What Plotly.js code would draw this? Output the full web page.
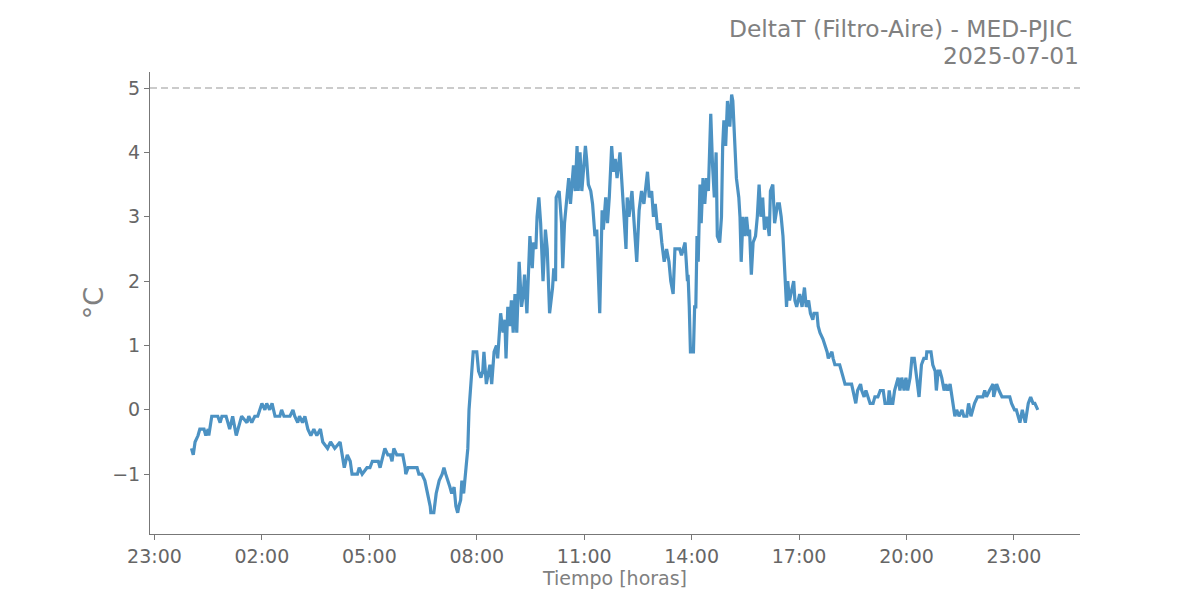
<!DOCTYPE html>
<html>
<head>
<meta charset="utf-8">
<script src="https://cdn.plot.ly/plotly-3.0.1.min.js"></script>
<style>html,body{margin:0;padding:0;background:#fff;}#chart{width:1200px;height:600px;}</style>
</head>
<body>
<div id="chart"></div>
<script>
// Chart data: DeltaT (Filtro-Aire) - MED-PJIC, 2025-07-01
const chartDate = "2025-07-01";
const titleLines = ["DeltaT (Filtro-Aire) - MED-PJIC", "2025-07-01"];
const xAxisLabel = "Tiempo [horas]";
const yAxisLabel = "°C";
const thresholdValue = 5;

const times = [
"00:02","00:05","00:08","00:13","00:16","00:23","00:26","00:30","00:31","00:33",
"00:36","00:46","00:50","00:53","01:00","01:03","01:06","01:11","01:17","01:23",
"01:26","01:35","01:38","01:43","01:48","01:53","01:56","02:00","02:05","02:08",
"02:13","02:17","02:22","02:30","02:33","02:37","02:47","02:52","02:55","03:00",
"03:03","03:08","03:12","03:17","03:22","03:27","03:32","03:38","03:42","03:50",
"03:55","04:02","04:11","04:15","04:18","04:23","04:28","04:31","04:40","04:43",
"04:48","04:56","05:01","05:05","05:15","05:18","05:23","05:26","05:31","05:35",
"05:38","05:41","05:46","05:56","06:00","06:01","06:05","06:20","06:23","06:28",
"06:33","06:38","06:42","06:43","06:48","06:52","06:57","07:02","07:05","07:08",
"07:12","07:15","07:18","07:22","07:25","07:28","07:30","07:33","07:35","07:38",
"07:42","07:45","07:47","07:51","07:54","08:00","08:03","08:07","08:10","08:12",
"08:16","08:22","08:25","08:29","08:33","08:35","08:40","08:44","08:47","08:49",
"08:52","08:55","08:58","09:01","09:04","09:07","09:11","09:15","09:18","09:20",
"09:24","09:29","09:33","09:35","09:39","09:41","09:44","09:47","09:51","09:55",
"09:58","10:02","10:07","10:09","10:12","10:13","10:18","10:22","10:24","10:27",
"10:31","10:34","10:37","10:42","10:45","10:48","10:50","10:53","10:56","11:02",
"11:04","11:07","11:11","11:14","11:18","11:21","11:26","11:30","11:32","11:36",
"11:39","11:42","11:46","11:49","11:52","11:55","12:00","12:03","12:06","12:10",
"12:12","12:15","12:20","12:24","12:28","12:32","12:36","12:40","12:46","12:49",
"12:53","12:56","12:59","13:03","13:07","13:10","13:14","13:18","13:22","13:25",
"13:29","13:32","13:40","13:43","13:46","13:49","13:53","13:54","13:56","13:58",
"14:03","14:05","14:07","14:09","14:11","14:14","14:16","14:19","14:22","14:25",
"14:28","14:32","14:35","14:38","14:41","14:43","14:47","14:50","14:52","14:54",
"14:57","15:00","15:04","15:07","15:09","15:12","15:15","15:19","15:21","15:23",
"15:26","15:29","15:32","15:35","15:37","15:40","15:43","15:47","15:50","15:53",
"15:56","15:59","16:02","16:06","16:10","16:12","16:16","16:19","16:24","16:27",
"16:30","16:33","16:36","16:39","16:41","16:44","16:51","16:53","16:56","17:01",
"17:05","17:09","17:12","17:16","17:19","17:23","17:25","17:30","17:32","17:35",
"17:40","17:44","17:47","17:49","17:55","17:57","18:00","18:05","18:08","18:14",
"18:17","18:28","18:30","18:32","18:35","18:38","18:43","18:45","18:49","18:52",
"18:55","18:59","19:04","19:07","19:12","19:16","19:21","19:24","19:29","19:31",
"19:34","19:37","19:40","19:46","19:49","19:52","19:56","19:59","20:02","20:06",
"20:09","20:13","20:17","20:21","20:25","20:29","20:33","20:34","20:41","20:44",
"20:48","20:50","20:53","20:56","20:59","21:03","21:06","21:09","21:13","21:18",
"21:21","21:24","21:28","21:33","21:36","21:41","21:44","21:48","21:51","21:54",
"21:59","22:08","22:11","22:14","22:19","22:25","22:26","22:31","22:35","22:40",
"22:53","22:56","23:01","23:04","23:10","23:14","23:19","23:24","23:28","23:32",
"23:35","23:40"
];

const deltaT = [
-0.6,-0.7,-0.5,-0.4,-0.3,-0.3,-0.4,-0.3,-0.4,-0.3,
-0.1,-0.1,-0.2,-0.1,-0.1,-0.2,-0.3,-0.1,-0.4,-0.2,
-0.1,-0.2,-0.1,-0.2,-0.1,-0.1,0.0,0.1,0.0,0.1,
0.0,0.1,-0.1,-0.1,0.0,-0.1,-0.1,0.0,-0.1,-0.2,
-0.1,-0.2,-0.1,-0.3,-0.4,-0.3,-0.4,-0.3,-0.5,-0.6,
-0.5,-0.6,-0.5,-0.7,-0.9,-0.7,-0.8,-1.0,-1.0,-0.9,
-1.0,-0.9,-0.9,-0.8,-0.8,-0.9,-0.7,-0.6,-0.7,-0.7,
-0.8,-0.6,-0.7,-0.7,-0.9,-1.0,-0.9,-0.9,-1.0,-1.0,
-1.1,-1.3,-1.5,-1.6,-1.6,-1.3,-1.1,-1.0,-0.9,-1.0,
-1.1,-1.2,-1.3,-1.2,-1.5,-1.6,-1.5,-1.4,-1.1,-1.3,
-0.9,-0.6,0.0,0.5,0.9,0.9,0.6,0.5,0.6,0.9,
0.4,0.7,0.4,0.9,1.0,0.8,1.5,1.2,1.4,0.8,
1.6,1.3,1.7,1.2,1.8,1.2,2.3,1.6,1.8,2.1,
1.5,2.7,2.2,2.6,2.5,3.0,3.3,2.9,2.0,2.8,
2.5,1.5,1.9,2.2,2.0,3.3,3.4,2.9,2.2,2.9,
3.3,3.6,3.2,3.8,3.4,4.1,3.4,4.0,3.4,4.1,
3.9,3.5,3.4,3.2,2.7,2.8,1.5,3.1,2.8,3.3,
2.9,3.3,4.1,3.7,3.9,3.6,4.0,3.5,3.1,2.5,
3.3,3.0,3.4,2.9,2.3,3.1,3.4,3.2,3.7,3.3,
3.4,3.0,3.2,2.8,2.9,2.6,2.3,2.5,2.3,2.0,
1.8,2.5,2.5,2.4,2.5,2.6,2.0,2.1,1.6,0.9,
0.9,1.6,1.6,2.7,2.3,3.5,2.9,3.6,3.2,3.6,
3.4,4.6,3.8,3.3,4.0,2.7,2.6,3.0,4.1,4.5,
4.1,4.8,4.4,4.9,4.8,4.1,3.6,3.3,3.0,2.3,
3.0,2.7,3.0,2.7,2.8,2.1,2.6,2.7,3.0,3.5,
3.0,3.3,2.8,3.0,2.7,3.4,3.5,2.9,3.2,3.2,
3.0,2.7,2.2,1.6,2.0,1.7,2.0,1.7,1.6,1.8,
1.6,1.9,1.6,1.7,1.5,1.4,1.5,1.5,1.3,1.2,
1.1,1.0,0.9,0.8,0.9,0.8,0.7,0.7,0.7,0.5,
0.4,0.4,0.3,0.2,0.1,0.3,0.4,0.3,0.2,0.3,
0.2,0.1,0.1,0.2,0.2,0.3,0.3,0.1,0.1,0.3,
0.1,0.1,0.3,0.5,0.3,0.5,0.3,0.5,0.3,0.5,
0.8,0.8,0.5,0.2,0.7,0.8,0.8,0.9,0.9,0.7,
0.6,0.3,0.6,0.6,0.5,0.3,0.4,0.3,0.4,0.1,
-0.1,0.0,-0.1,0.0,-0.1,-0.1,0.1,-0.1,0.0,0.1,
0.2,0.2,0.3,0.2,0.3,0.4,0.2,0.4,0.3,0.2,
0.2,0.1,0.0,0.0,-0.2,0.0,-0.2,0.1,0.2,0.1,
0.1,0.0
];

const xRange = ["2025-06-30 22:52:30", "2025-07-02 00:50:40"];
const yRange = [-1.93, 5.25];
const yTicks = [-1, 0, 1, 2, 3, 4, 5];

const xValues = times.map(t => chartDate + " " + t);

const grey = "#808080";
const tickGrey = "#666666";
const font = "DejaVu Sans, Verdana, sans-serif";

const trace = {
  type: "scatter",
  mode: "lines",
  x: xValues,
  y: deltaT,
  line: { color: "#4c92c3", width: 3.2 },
  hoverinfo: "x+y",
  showlegend: false
};

const layout = {
  width: 1200,
  height: 600,
  margin: { l: 150, r: 120, t: 72, b: 66 },
  paper_bgcolor: "#ffffff",
  plot_bgcolor: "#ffffff",
  font: { family: font, color: tickGrey },
  title: {
    text: titleLines[0],
    x: 1 - 8 / 930, xref: "paper", xanchor: "right",
    y: 1 - 29 / 600, yref: "container", yanchor: "middle",
    font: { family: font, size: 23.4, color: grey }
  },
  annotations: [{
    text: titleLines[1],
    xref: "paper", x: 1, xanchor: "right", xshift: 1,
    yref: "paper", y: 1 + (72 - 56) / 462, yanchor: "middle",
    showarrow: false,
    font: { family: font, size: 23.4, color: grey }
  }],
  xaxis: {
    type: "date",
    range: xRange,
    tick0: "2025-06-30 23:00",
    dtick: 3 * 3600 * 1000,
    tickformat: "%H:%M",
    showgrid: false,
    zeroline: false,
    showline: true,
    linecolor: "#777777",
    linewidth: 1,
    ticks: "outside",
    ticklen: 5,
    tickwidth: 1,
    tickcolor: "#777777",
    tickfont: { family: font, size: 19, color: tickGrey },
    title: { text: xAxisLabel, font: { family: font, size: 19, color: grey }, standoff: 4 }
  },
  yaxis: {
    range: yRange,
    tickvals: yTicks,
    showgrid: false,
    zeroline: false,
    showline: true,
    linecolor: "#777777",
    linewidth: 1,
    ticks: "outside",
    ticklen: 5,
    tickwidth: 1,
    tickcolor: "#777777",
    tickfont: { family: font, size: 19, color: tickGrey },
    title: { text: yAxisLabel, font: { family: font, size: 27, color: grey }, standoff: 0 }
  },
  shapes: [{
    type: "line", xref: "paper", x0: 0, x1: 1, yref: "y", y0: thresholdValue, y1: thresholdValue,
    line: { color: "#bbbbbb", width: 1.5, dash: "7px,4px" }
  }]
};

Plotly.newPlot("chart", [trace], layout, { displayModeBar: false, staticPlot: true });
</script>
</body>
</html>
